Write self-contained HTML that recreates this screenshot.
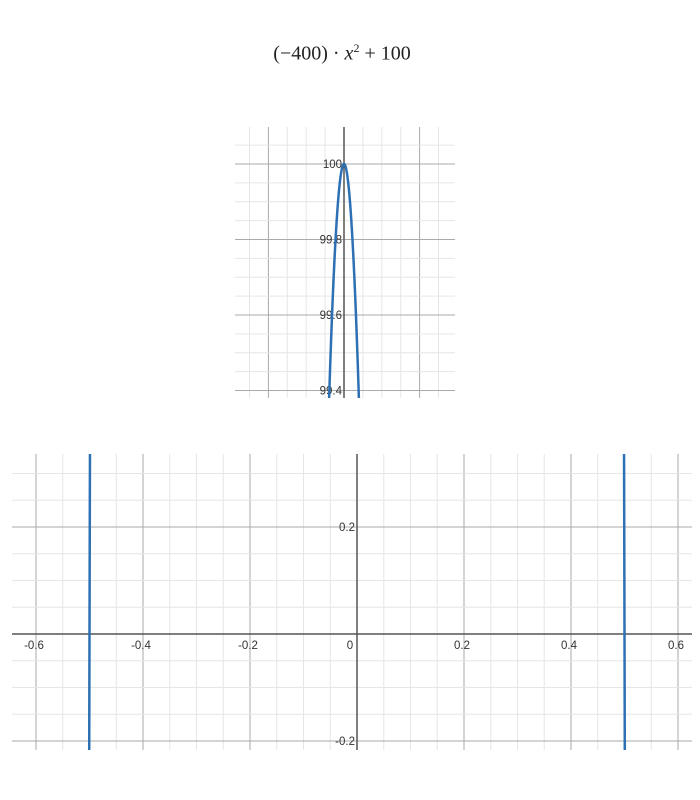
<!DOCTYPE html>
<html><head><meta charset="utf-8"><style>
html,body{margin:0;background:#fff;width:700px;height:800px;overflow:hidden;font-family:"Liberation Sans",sans-serif}
#title{position:absolute;left:0;width:684px;top:36px;text-align:center;font-family:"Liberation Serif",serif;font-size:20px;color:#222;line-height:24px}
svg{position:absolute;left:0;top:0;overflow:hidden}
</style></head><body>
<div id="title">(−400) · <i>x</i><sup style="font-size:12px">2</sup> + 100</div>
<svg id="s" width="700" height="800"></svg>
<script>
const coefA = -400;
const coefC = 100;
const topXTicks = [-0.2, 0, 0.2];
const topYTicks = [99.4, 99.6, 99.8, 100];
const botXTicks = [-0.6, -0.4, -0.2, 0, 0.2, 0.4, 0.6];
const botYTicks = [-0.2, 0.2];
const NS="http://www.w3.org/2000/svg";
const svg=document.getElementById('s');
function mk(t,a,p){const e=document.createElementNS(NS,t);for(const k in a)e.setAttribute(k,a[k]);(p||svg).appendChild(e);return e;}
function plot(cfg){
  const g=mk('g',{});
  
  
  const id='c'+cfg.name;
  const cp=mk('clipPath',{id:id});mk('rect',{x:cfg.L,y:cfg.T,width:cfg.R-cfg.L,height:cfg.B-cfg.T},cp);
  const X=v=>cfg.ox+v*cfg.sx, Y=v=>cfg.oy-(v-cfg.y0)*cfg.sy;
  const xmin=(cfg.L-cfg.ox)/cfg.sx,xmax=(cfg.R-cfg.ox)/cfg.sx;
  const ymin=cfg.y0+(cfg.oy-cfg.B)/cfg.sy,ymax=cfg.y0+(cfg.oy-cfg.T)/cfg.sy;
  for(let k=Math.ceil(xmin/cfg.minor);k*cfg.minor<=xmax;k++){const v=k*cfg.minor;const maj=Math.abs(v/cfg.major-Math.round(v/cfg.major))<1e-6;
    const l=mk('line',{x1:X(v),x2:X(v),y1:cfg.T,y2:cfg.B,stroke:maj?'#aaa':'#e6e6e6','stroke-width':1},g);
    }
  for(let k=Math.ceil((ymin-cfg.y0)/cfg.minor);cfg.y0+k*cfg.minor<=ymax;k++){const v=cfg.y0+k*cfg.minor;const maj=Math.abs(k*cfg.minor/cfg.major-Math.round(k*cfg.minor/cfg.major))<1e-6;
    const l=mk('line',{x1:cfg.L,x2:cfg.R,y1:Y(v),y2:Y(v),stroke:maj?'#aaa':'#e6e6e6','stroke-width':1},g);
    }
  const ya=mk('line',{x1:X(0),x2:X(0),y1:cfg.T,y2:cfg.B,stroke:'#555','stroke-width':1.5},g);
  
  if(cfg.xaxis){const xa=mk('line',{x1:cfg.L,x2:cfg.R,y1:Y(0),y2:Y(0),stroke:'#555','stroke-width':1.5},g);
    }
  cfg.xt.forEach(v=>{const t=mk('text',{x:X(v)-(v===0?7:2),y:Y(0)+15,'text-anchor':'middle','font-size':11.5,fill:'#333'},g);t.textContent=String(v);
    });
  cfg.yt.forEach(v=>{const t=mk('text',{x:X(0)-2,y:Y(v)+4,'text-anchor':'end','font-size':11.5,fill:'#333'},g);t.textContent=String(v);
    });
  let d='';const n=4000;
  for(let i=0;i<=n;i++){const x=xmin+(xmax-xmin)*i/n;let y=coefA*x*x+coefC;let py=Y(y);py=Math.max(cfg.T-20,Math.min(cfg.B+20,py));d+=(i?'L':'M')+X(x).toFixed(2)+' '+py.toFixed(2);}
  const p=mk('path',{d:d,fill:'none',stroke:'#2d70b3','stroke-width':2.5,'clip-path':'url(#'+id+')'},g);
  
}
plot({name:'zoomed-plot',L:235,R:455,T:127,B:398,ox:344,oy:164,y0:100,sx:378,sy:377.5,major:0.2,minor:0.05,xaxis:false,xt:[],yt:topYTicks});
plot({name:'main-plot',L:12,R:692,T:454,B:750,ox:357,oy:634,y0:0,sx:535,sy:535,major:0.2,minor:0.05,xaxis:true,xt:botXTicks,yt:botYTicks});
</script>
</body></html>
